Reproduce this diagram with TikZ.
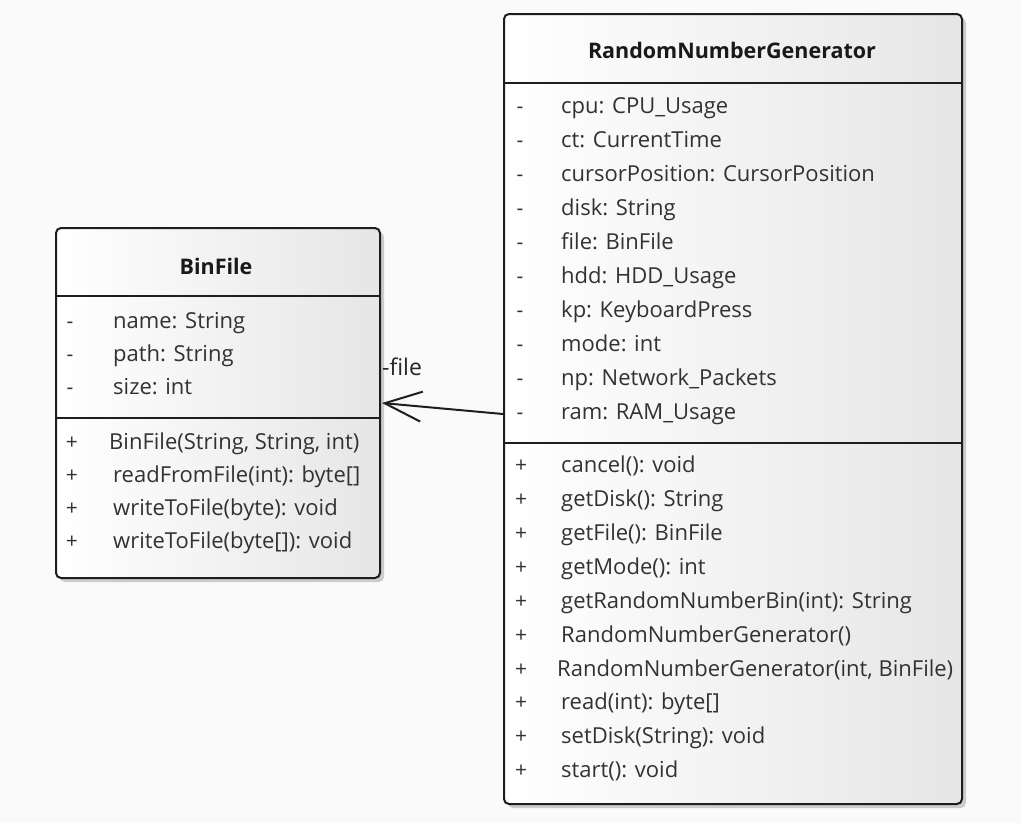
\documentclass[tikz,border=0pt]{standalone}
\usepackage{fontspec}
\setmainfont{Open Sans}
\usetikzlibrary{arrows.meta,shadows}

\definecolor{canvas}{RGB}{250,250,250}
\definecolor{edge}{RGB}{30,30,30}
\definecolor{ink}{RGB}{50,50,50}
\definecolor{boxright}{RGB}{230,230,230}

\begin{document}
\begin{tikzpicture}[x=1pt,y=-1pt,
  classbox/.style={draw=edge, line width=2pt, rounded corners=5pt,
    left color=white, right color=boxright, inner sep=0pt,
    drop shadow={shadow xshift=4pt, shadow yshift=-4pt, opacity=0.18, fill=black}},
  divider/.style={draw=edge, line width=2pt},
  title/.style={font=\fontsize{21.5}{25}\selectfont\bfseries, text=black!90, inner sep=0pt},
  member/.style={font=\fontsize{22}{26}\selectfont, text=ink, inner sep=0pt, anchor=mid west},
  vis/.style={font=\fontsize{21}{25}\selectfont, text=ink, inner sep=0pt, anchor=mid},
  assoc/.style={draw=edge, line width=2pt, -{Straight Barb[length=37pt, width=30pt, line width=2pt]}},
  rolelabel/.style={font=\fontsize{23}{27}\selectfont, text=black!85, inner sep=0pt, anchor=base west}
]
% page
\fill[canvas] (0,0) rectangle (1021,823);
\useasboundingbox (0,0) rectangle (1021,823);

% ---------- BinFile ----------
\node[classbox, minimum width=324pt, minimum height=350pt, anchor=north west] (bin) at (55,227) {};
\draw[divider] (bin.west |- 0,296) -- (bin.east |- 0,296);
\draw[divider] (bin.west |- 0,418) -- (bin.east |- 0,418);
\node[title] (binT) at (216,266) {BinFile};

\foreach \y/\txt [count=\i] in {326/{name: String},359/{path: String},392/{size: int}} {
  \node[vis] (binav\i) at (70,\y) {-};
  \node[member] (bina\i) at (113,\y) {\txt};
}
\node[vis] (binmv1) at (72,447) {+};
\node[member] (binm1) at (109,447) {BinFile(String, String, int)};
\foreach \y/\txt [count=\i from 2] in {480/{readFromFile(int): byte[]},513/{writeToFile(byte): void},546/{writeToFile(byte[]): void}} {
  \node[vis] (binmv\i) at (72,\y) {+};
  \node[member] (binm\i) at (113,\y) {\txt};
}

% ---------- RandomNumberGenerator ----------
\node[classbox, minimum width=458pt, minimum height=790pt, anchor=north west] (rng) at (503,13) {};
\draw[divider] (rng.west |- 0,83) -- (rng.east |- 0,83);
\draw[divider] (rng.west |- 0,443) -- (rng.east |- 0,443);
\node[title] (rngT) at (732,50) {RandomNumberGenerator};

\foreach \txt [count=\i] in {{cpu: CPU\_Usage},{ct: CurrentTime},{cursorPosition: CursorPosition},
    {disk: String},{file: BinFile},{hdd: HDD\_Usage},{kp: KeyboardPress},{mode: int},
    {np: Network\_Packets},{ram: RAM\_Usage}} {
  \node[vis] (rngav\i) at (520,{111+34*(\i-1)}) {-};
  \node[member] (rnga\i) at (561,{111+34*(\i-1)}) {\txt};
}
\foreach \txt [count=\i] in {{cancel(): void},{getDisk(): String},{getFile(): BinFile},
    {getMode(): int},{getRandomNumberBin(int): String},{RandomNumberGenerator()},
    {RandomNumberGenerator(int, BinFile)},{read(int): byte[]},{setDisk(String): void},{start(): void}} {
  \node[vis] (rngmv\i) at (521,{470+33.9*(\i-1)}) {+};
  \node[member] (rngm\i) at ({\i==7 ? 557 : 561},{470+33.9*(\i-1)}) {\txt};
}

% ---------- association ----------
\draw[assoc] ([yshift=-5pt]rng.west) -- ([xshift=1pt]bin.east);
\node[rolelabel] (role) at (382,375) {-file};
\end{tikzpicture}
\end{document}
